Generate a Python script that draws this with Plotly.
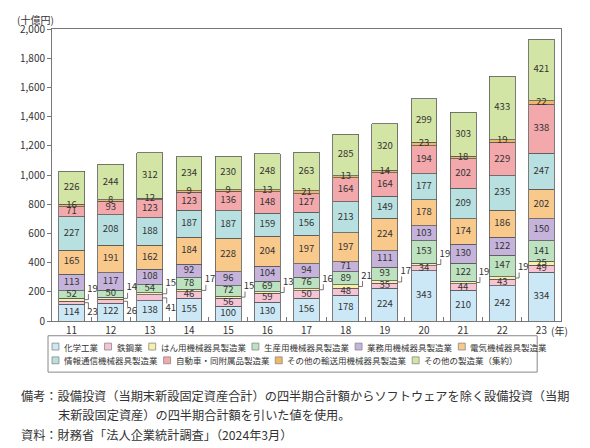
import numpy as np
import plotly.graph_objects as go

# ---------------- data ----------------
years = ["11", "12", "13", "14", "15", "16", "17", "18", "19", "20", "21", "22", "23"]
series_names = [
    "化学工業", "鉄鋼業", "はん用機械器具製造業", "生産用機械器具製造業",
    "業務用機械器具製造業", "電気機械器具製造業", "情報通信機械器具製造業",
    "自動車・同附属品製造業", "その他の輸送用機械器具製造業", "その他の製造業（集約）",
]
chem   = [114, 122, 138, 155, 100, 130, 156, 178, 224, 343, 210, 242, 334]
steel  = [23, 26, 41, 46, 56, 59, 50, 48, 35, 34, 44, 43, 49]
hanyo  = [19, 14, 15, 17, 15, 13, 16, 21, 17, 19, 19, 19, 25]
seisan = [52, 50, 54, 78, 72, 69, 76, 89, 93, 153, 122, 147, 141]
gyomu  = [113, 117, 108, 92, 96, 104, 94, 71, 111, 103, 130, 122, 150]
denki  = [165, 191, 162, 184, 228, 204, 197, 197, 224, 178, 174, 186, 202]
joho   = [227, 208, 188, 187, 187, 159, 156, 213, 149, 177, 209, 235, 247]
car    = [71, 93, 123, 123, 136, 148, 127, 164, 164, 194, 202, 229, 338]
yuso   = [16, 8, 12, 9, 9, 13, 21, 13, 14, 23, 18, 19, 22]
other  = [226, 244, 312, 234, 230, 248, 263, 285, 320, 299, 303, 433, 421]

# which labels are drawn outside the bar with a leader line
hanyo_outside = [True] * 12 + [False]
steel_outside = [True, True, True] + [False] * 10

colors = ["#cce8f6", "#f6c4d4", "#f8f0a6", "#bde2bf", "#c6b3db",
          "#f9c98c", "#b9e0e1", "#f3a9ac", "#efb865", "#d3e5a5"]

FONT = "Noto Sans CJK JP"
TXT = "#333333"

series = [chem, steel, hanyo, seisan, gyomu, denki, joho, car, yuso, other]
vals = np.array(series, dtype=float)
cum = np.cumsum(vals, axis=0)
bases = cum - vals
centers = bases + vals / 2
x = np.arange(len(years))

fig = go.Figure()
BAR_W = 0.66
for name, v, c in zip(series_names, series, colors):
    fig.add_trace(go.Bar(
        x=x, y=v, name=name, width=BAR_W,
        marker=dict(color=c, line=dict(color="#5a5a5a", width=0.8)),
        showlegend=False, hoverinfo="skip",
    ))

# inside labels
outside_mask = np.zeros(vals.shape, dtype=bool)
outside_mask[1] = steel_outside
outside_mask[2] = hanyo_outside
for k in range(len(series)):
    m = ~outside_mask[k]
    fig.add_trace(go.Scatter(
        x=x[m], y=centers[k][m], mode="text",
        text=[str(int(t)) for t in vals[k][m]],
        textposition="middle center",
        textfont=dict(family=FONT, size=9.5, color=TXT),
        showlegend=False, hoverinfo="skip",
    ))

# outside labels with leader lines
half = BAR_W / 2
lead_dx = 0.1
lead_dy = 38
lx, ly = [], []
up_x, up_y, up_t = [], [], []
dn_x, dn_y, dn_t = [], [], []
for k, direction in ((2, 1), (1, -1)):
    for i in range(len(years)):
        if not outside_mask[k][i]:
            continue
        yc = centers[k][i]
        x0 = i + half
        x1 = x0 + lead_dx
        y1 = yc + direction * lead_dy
        lx += [x0, x1, x1, None]
        ly += [yc, yc, y1, None]
        if direction > 0:
            up_x.append(x1 - 0.03); up_y.append(y1); up_t.append(str(int(vals[k][i])))
        else:
            dn_x.append(x1 - 0.03); dn_y.append(y1); dn_t.append(str(int(vals[k][i])))

fig.add_trace(go.Scatter(x=lx, y=ly, mode="lines", line=dict(color="#555555", width=0.8),
                         showlegend=False, hoverinfo="skip"))
fig.add_trace(go.Scatter(x=up_x, y=up_y, mode="text", text=up_t, textposition="top right",
                         textfont=dict(family=FONT, size=9.5, color=TXT),
                         showlegend=False, hoverinfo="skip"))
fig.add_trace(go.Scatter(x=dn_x, y=dn_y, mode="text", text=dn_t, textposition="bottom right",
                         textfont=dict(family=FONT, size=9.5, color=TXT),
                         showlegend=False, hoverinfo="skip"))

# ---------------- layout ----------------
# the page body adds an 8px offset, so the figure is drawn 8px smaller
OFF = 8
W, H = 590 - OFF, 448 - OFF
L, T = 48 - OFF, 24 - OFF
R = W - (561 - OFF)
B = H - (321 - OFF)
PW, PH = W - L - R, H - T - B

def fx(px):
    """reference-pixel x -> paper x"""
    return (px - OFF - L) / PW

def fy(py):
    """reference-pixel y -> paper y"""
    return (H - B - (py - OFF)) / PH

fig.update_layout(
    width=W, height=H, autosize=False,
    margin=dict(l=L, r=R, t=T, b=B, pad=0),
    barmode="stack",
    plot_bgcolor="white", paper_bgcolor="white",
    font=dict(family=FONT, size=10, color=TXT),
    xaxis=dict(
        range=[-0.5, len(years) - 0.5], tickmode="array", tickvals=list(x), ticktext=years,
        ticks="", showgrid=False, zeroline=False,
        showline=True, linecolor="#777777", linewidth=1, mirror=True,
        tickfont=dict(family=FONT, size=10, color=TXT),
        minor=dict(tickvals=[i + 0.5 for i in range(len(years) - 1)], ticks="inside",
                   ticklen=4, tickcolor="#777777", tickwidth=1, showgrid=False),
    ),
    yaxis=dict(
        range=[0, 2000], dtick=200, tickformat=",", ticks="outside", ticklen=4,
        tickcolor="#777777", showgrid=False, zeroline=False,
        showline=True, linecolor="#777777", linewidth=1, mirror=True,
        tickfont=dict(family=FONT, size=10, color=TXT),
    ),
)

ann = []
ann.append(dict(xref="paper", yref="paper", x=fx(31), y=fy(14), text="(十億円)",
                showarrow=False, xanchor="center", yanchor="middle",
                font=dict(family=FONT, size=10, color=TXT)))
ann.append(dict(xref="x", yref="paper", x=len(years) - 1, y=0, xshift=8, yshift=-9,
                text="(年)", showarrow=False, xanchor="left", yanchor="middle",
                font=dict(family=FONT, size=10, color=TXT)))

shapes = []
# legend box
shapes.append(dict(type="rect", xref="paper", yref="paper",
                   x0=fx(44), x1=fx(537), y0=fy(336), y1=fy(373),
                   line=dict(color="#888888", width=1), fillcolor="rgba(0,0,0,0)"))
LFS = 8.5
rows = [list(range(0, 6)), list(range(6, 10))]
row_y = [347, 361]
for r, idxs in enumerate(rows):
    cx = 48
    for k in idxs:
        name = series_names[k]
        shapes.append(dict(type="rect", xref="paper", yref="paper",
                           x0=fx(cx), x1=fx(cx + 7), y0=fy(row_y[r] - 3.5), y1=fy(row_y[r] + 3.5),
                           line=dict(color="#888888", width=0.8), fillcolor=colors[k]))
        ann.append(dict(xref="paper", yref="paper", x=fx(cx + 10), y=fy(row_y[r]),
                        text=name, showarrow=False, xanchor="left", yanchor="middle",
                        font=dict(family=FONT, size=LFS, color=TXT)))
        cx += 11 + len(name) * LFS + 8

# notes
NFS = 12.2
notes = [
    (15, 397, "備考：設備投資（当期末新設固定資産合計）の四半期合計額からソフトウェアを除く設備投資（当期"),
    (15 + 3 * NFS, 417, "末新設固定資産）の四半期合計額を引いた値を使用。"),
    (15, 437, "資料：財務省「法人企業統計調査」（2024年3月）"),
]
for px_, py_, t in notes:
    ann.append(dict(xref="paper", yref="paper", x=fx(px_), y=fy(py_), text=t,
                    showarrow=False, xanchor="left", yanchor="middle",
                    font=dict(family=FONT, size=NFS, color=TXT)))

fig.update_layout(annotations=ann, shapes=shapes)
fig.write_html("out.html")
